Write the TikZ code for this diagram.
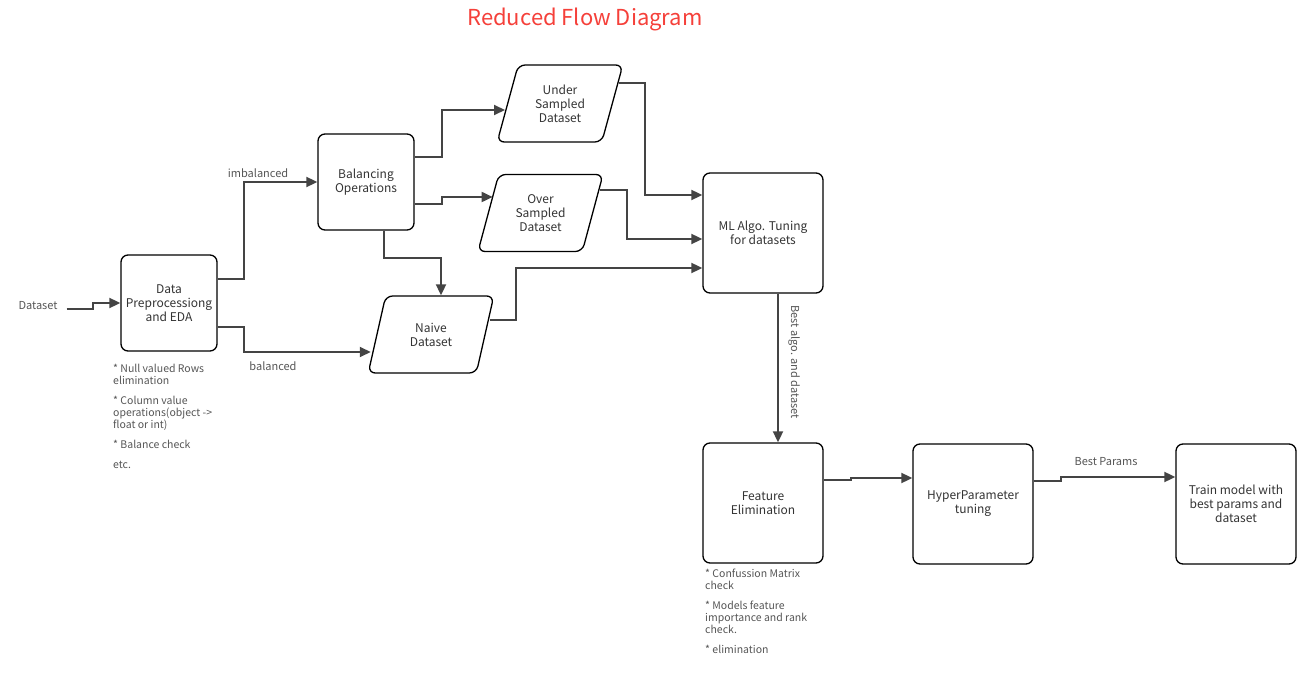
\documentclass[tikz,border=0pt]{standalone}
\usepackage{fontspec}
\setmainfont{Noto Sans CJK SC}
\usetikzlibrary{arrows.meta,shapes.geometric}

\definecolor{linegray}{HTML}{444444}
\definecolor{textgray}{HTML}{555555}
\definecolor{titlered}{HTML}{F5403A}

\tikzset{
    procbox/.style={draw=black, line width=1.3pt, rounded corners=7pt, align=center,
        text=black!80, font=\fontsize{12}{14}\selectfont, inner sep=2pt},
    databox/.style={procbox, trapezium, trapezium left angle=72, trapezium right angle=108,
        trapezium stretches=true, minimum width=126pt, minimum height=77pt},
    conn/.style={draw=linegray, line width=1.8pt, -{Triangle[length=11pt,width=10pt]}},
    lbl/.style={text=textgray, font=\fontsize{11}{13}\selectfont, inner sep=1pt},
    note/.style={text=textgray, font=\fontsize{10.5}{12}\selectfont, align=left, anchor=north west, inner sep=0pt}
}

\begin{document}
\begin{tikzpicture}[x=1pt, y=-1pt]
    \useasboundingbox (0,0) rectangle (1310,695);

    %title
    \node[text=titlered, font=\fontsize{22}{24}\selectfont] (title) at (585,19) {Reduced Flow Diagram};

    %boxes
    \node[procbox, minimum width=96pt, minimum height=96pt] (data) at (169,303) {Data\\Preprocessiong\\and EDA};
    \node[procbox, minimum width=96pt, minimum height=96pt] (bal) at (366,182) {Balancing\\Operations};
    \node[databox] (under) at (560,103.5) {Under\\Sampled\\Dataset};
    \node[databox] (over) at (540.5,213) {Over\\Sampled\\Dataset};
    \node[databox] (naive) at (431,334.5) {Naive\\Dataset};
    \node[procbox, minimum width=120pt, minimum height=120pt] (ml) at (763,233) {ML Algo. Tuning\\for datasets};
    \node[procbox, minimum width=120pt, minimum height=120pt] (feat) at (763,503) {Feature\\Elimination};
    \node[procbox, minimum width=120pt, minimum height=120pt] (hyp) at (973,504) {HyperParameter\\tuning};
    \node[procbox, minimum width=120pt, minimum height=120pt] (train) at (1236,504) {Train model with\\best params and\\dataset};

    %labels
    \node[lbl] (dsin) at (38,306) {Dataset};
    \node[lbl] (imb) at (258,173) {imbalanced};
    \node[lbl] (bald) at (273,366) {balanced};
    \node[lbl, rotate=-90] (bestalgo) at (794,362) {Best algo. and dataset};
    \node[lbl] (bestpar) at (1106,462) {Best Params};

    %connectors
    \draw[conn] ([xshift=8pt,yshift=-3pt]dsin.east) -- ++(26,0) |- (data.west);
    \draw[conn] ([yshift=24pt]data.east) -- ++(26,0) |- (bal.west);
    \draw[conn] ([yshift=-24pt]data.east) -- ++(26,0) |- ([shift={(-5.5,17.5)}]naive.west);
    \draw[conn] ([yshift=25pt]bal.east) -- ++(27,0) |- ([shift={(-2,6.5)}]under.west);
    \draw[conn] ([yshift=-22pt]bal.east) -- ++(27,0) |- ([shift={(5,-16)}]over.west);
    \draw[conn] ([xshift=18pt]bal.south) -- ++(0,27) -| ([xshift=10pt]naive.north);
    \draw[conn] ([shift={(6,-20.5)}]under.east) -- ++(26,0) |- ([yshift=38pt]ml.west);
    \draw[conn] ([shift={(7,-23)}]over.east) -- ++(27,0) |- ([yshift=-6pt]ml.west);
    \draw[conn] ([shift={(4.5,-14.5)}]naive.east) -- ++(26,0) |- ([yshift=-35pt]ml.west);
    \draw[conn] ([xshift=15pt]ml.south) -- ([xshift=15pt]feat.north);
    \draw[conn] ([yshift=23pt]feat.east) -- ++(27,0) |- ([yshift=26pt]hyp.west);
    \draw[conn] ([yshift=23pt]hyp.east) -- ++(27,0) |- ([yshift=27pt]train.west);

    %notes
    \node[note] (datanote) at (113,364) {* Null valued Rows\\elimination\\[8pt]* Column value\\operations(object ->\\float or int)\\[8pt]* Balance check\\[8pt]etc.};
    \node[note] (featnote) at (705,569) {* Confussion Matrix\\check\\[8pt]* Models feature\\importance and rank\\check.\\[8pt]* elimination};
\end{tikzpicture}
\end{document}
